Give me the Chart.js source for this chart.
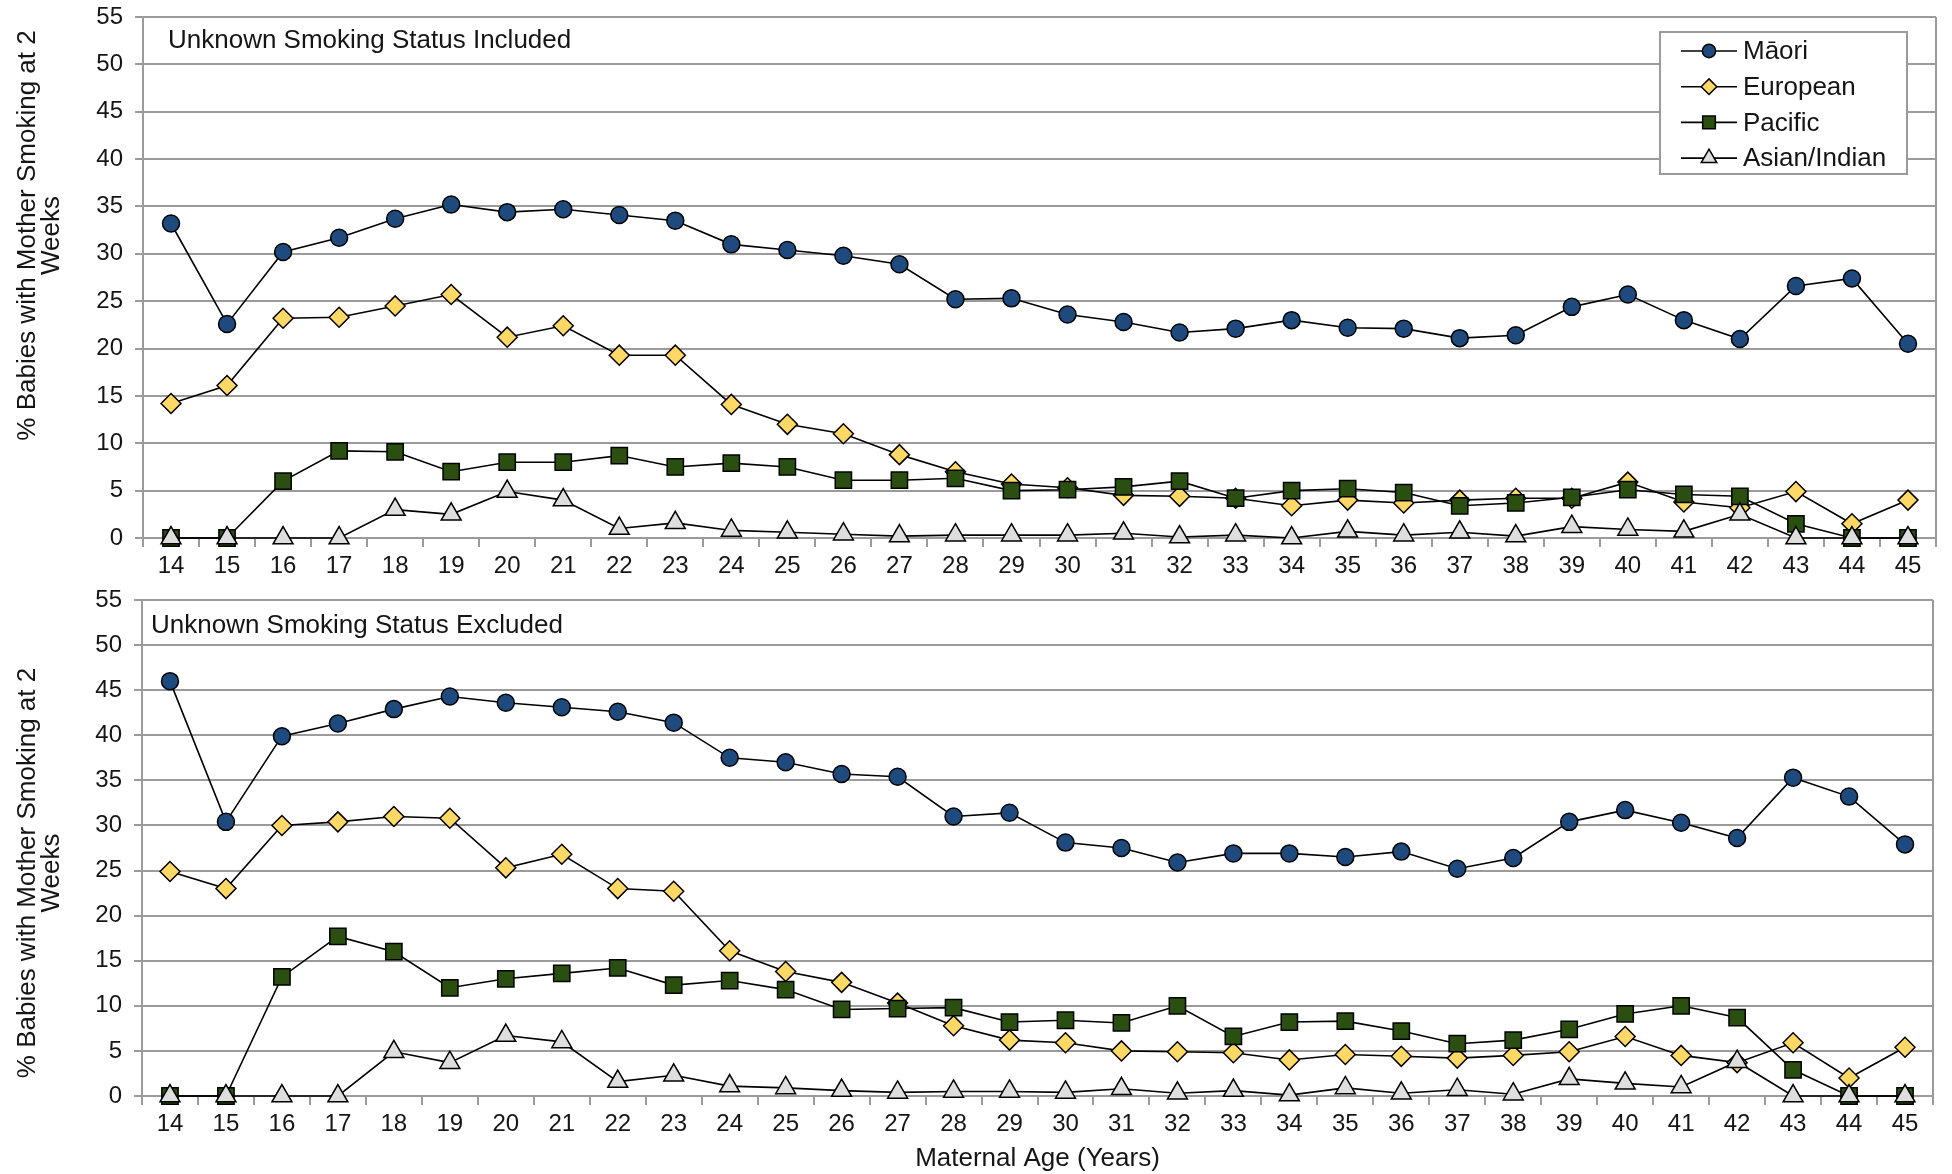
<!DOCTYPE html>
<html>
<head>
<meta charset="utf-8">
<script src="https://cdn.jsdelivr.net/npm/chart.js@4.4.1/dist/chart.umd.min.js"></script>
<style>
  html, body { margin: 0; padding: 0; background: #fff; overflow: hidden; }
  canvas { display: block; }
</style>
</head>
<body>
<canvas id="chart-included" width="1952" height="580"></canvas>
<canvas id="chart-excluded" width="1952" height="594"></canvas>
<script>
// maternal age categories
const ages = ['14','15','16','17','18','19','20','21','22','23','24','25','26','27','28','29',
              '30','31','32','33','34','35','36','37','38','39','40','41','42','43','44','45'];
const yTicks = [0, 5, 10, 15, 20, 25, 30, 35, 40, 45, 50, 55];

// unknown smoking status included
const maoriIncl    = [33.2,22.6,30.2,31.7,33.7,35.2,34.4,34.7,34.1,33.5,31.0,30.4,29.8,28.9,25.2,25.3,
                      23.6,22.8,21.7,22.1,23.0,22.2,22.1,21.1,21.4,24.4,25.7,23.0,21.0,26.6,27.4,20.5];
const europeanIncl = [14.2,16.1,23.2,23.3,24.5,25.7,21.2,22.4,19.3,19.3,14.1,12.0,11.0,8.8,7.0,5.7,
                      5.3,4.5,4.4,4.2,3.4,4.0,3.7,4.0,4.2,4.2,5.9,3.8,3.2,4.9,1.5,4.0];
const pacificIncl  = [0,0,6.0,9.2,9.1,7.0,8.0,8.0,8.7,7.5,7.9,7.5,6.1,6.1,6.3,5.0,
                      5.1,5.4,6.0,4.2,5.0,5.2,4.8,3.4,3.7,4.3,5.1,4.6,4.4,1.5,0,0];
const asianIncl    = [0,0,0,0,3.0,2.5,4.9,4.0,1.0,1.6,0.8,0.6,0.4,0.2,0.3,0.3,
                      0.3,0.5,0.1,0.3,0,0.7,0.3,0.6,0.2,1.2,0.9,0.7,2.5,0,0,0];

// unknown smoking status excluded
const maoriExcl    = [46.0,30.4,39.9,41.3,42.9,44.3,43.6,43.1,42.6,41.4,37.5,37.0,35.7,35.4,31.0,31.4,
                      28.1,27.5,25.9,26.9,26.9,26.5,27.1,25.2,26.4,30.4,31.7,30.3,28.6,35.3,33.2,27.9];
const europeanExcl = [24.9,23.0,30.0,30.4,31.0,30.8,25.3,26.8,23.0,22.7,16.1,13.8,12.6,10.3,7.8,6.2,
                      5.9,5.0,4.9,4.8,4.0,4.6,4.4,4.2,4.5,4.9,6.6,4.5,3.7,5.9,2.0,5.4];
const pacificExcl  = [0,0,13.2,17.7,16.0,12.0,13.0,13.6,14.2,12.3,12.8,11.8,9.6,9.7,9.8,8.2,
                      8.4,8.1,10.0,6.6,8.2,8.3,7.2,5.8,6.2,7.4,9.1,10.0,8.7,2.9,0,0];
const asianExcl    = [0,0,0,0,4.9,3.7,6.7,6.0,1.6,2.3,1.1,0.9,0.6,0.4,0.5,0.5,
                      0.4,0.8,0.3,0.6,0.1,0.9,0.3,0.7,0.2,1.9,1.4,1.0,3.8,0,0,0];

const seriesNames = ['Māori', 'European', 'Pacific', 'Asian/Indian'];
const yTitle = ['% Babies with Mother Smoking at 2', 'Weeks'];

const FONT = "'Liberation Sans', Arial, sans-serif";
const GRID = '#9b9b9b';
const INK = '#151515';

Chart.defaults.font.family = FONT;
Chart.defaults.color = INK;

const styles = [
  { fill: '#1f4a7e', shape: 'circle',   r: 8.5 },
  { fill: '#ffd866', shape: 'rectRot',  r: 10 },
  { fill: '#2a4f10', shape: 'rect',     r: 11.5 },
  { fill: '#dedede', shape: 'triangle', r: 11.5 }
];

const makeDatasets = cols => cols.map((data, i) => ({
  label: seriesNames[i],
  data: data,
  borderColor: '#000',
  borderWidth: 1.6,
  pointStyle: styles[i].shape,
  pointRadius: styles[i].r,
  pointBackgroundColor: styles[i].fill,
  pointBorderColor: '#000',
  pointBorderWidth: 1.5,
  tension: 0,
  clip: false,
  order: 4 - i   // later series sit on top
}));

// text, frame and legend drawn over the plot area
const overlay = {
  id: 'overlay',
  afterDraw(chart, args, o) {
    const ctx = chart.ctx, a = chart.chartArea;
    ctx.save();
    // right frame edge
    ctx.strokeStyle = GRID; ctx.lineWidth = 2;
    ctx.beginPath(); ctx.moveTo(a.right, a.top); ctx.lineTo(a.right, a.bottom); ctx.stroke();

    ctx.fillStyle = INK;
    ctx.font = '26px ' + FONT;
    ctx.textBaseline = 'middle';
    ctx.textAlign = 'left';
    ctx.fillText(o.caption, a.left + o.capX, a.top + o.capY);

    // rotated y title
    ctx.save();
    ctx.translate(0, (a.top + a.bottom) / 2 + o.titleShift);
    ctx.rotate(-Math.PI / 2);
    ctx.textAlign = 'center';
    ctx.fillText(yTitle[0], 0, 28);
    ctx.fillText(yTitle[1], 0, 52);
    ctx.restore();

    if (o.legend) {
      const bx = a.right - 276, by = a.top + 15, bw = 247, bh = 142;
      ctx.fillStyle = '#fff';
      ctx.fillRect(bx, by, bw, bh);
      ctx.strokeStyle = GRID; ctx.lineWidth = 2;
      ctx.strokeRect(bx, by, bw, bh);
      chart.data.datasets.forEach((ds, i) => {
        const y = by + 19 + i * 35.7;
        ctx.strokeStyle = '#000'; ctx.lineWidth = 1.6;
        ctx.beginPath(); ctx.moveTo(bx + 21, y); ctx.lineTo(bx + 77, y); ctx.stroke();
        ctx.fillStyle = ds.pointBackgroundColor;
        ctx.strokeStyle = '#000'; ctx.lineWidth = 1.5;
        Chart.helpers.drawPoint(ctx, {
          pointStyle: ds.pointStyle, radius: ds.pointRadius * 0.78, rotation: 0, borderWidth: 1.5
        }, bx + 49, y);
        ctx.fillStyle = INK;
        ctx.textAlign = 'left';
        ctx.fillText(ds.label, bx + 83, y + 1);
      });
    }
    ctx.restore();
  }
};

function build(id, cols, opt) {
  return new Chart(document.getElementById(id), {
    type: 'line',
    data: { labels: ages, datasets: makeDatasets(cols) },
    plugins: [overlay],
    options: {
      responsive: false,
      animation: false,
      events: [],
      layout: { padding: { top: opt.top, right: opt.right, left: 0, bottom: 0 } },
      plugins: {
        legend: { display: false },
        tooltip: { enabled: false },
        overlay: opt.overlay
      },
      scales: {
        x: {
          offset: true,
          grid: { offset: true, drawOnChartArea: false, color: GRID, lineWidth: 2, tickLength: 9 },
          border: { display: true, color: GRID, width: 2 },
          ticks: { font: { size: 24 }, color: INK, padding: 5, maxRotation: 0, autoSkip: false },
          title: {
            display: !!opt.xTitle, text: opt.xTitle || '',
            font: { size: 26 }, color: INK, padding: { top: 0, bottom: 0 }
          },
          afterFit: s => { s.height = opt.xHeight; }
        },
        y: {
          min: 0, max: 55,
          afterBuildTicks: s => { s.ticks = yTicks.map(v => ({ value: v })); },
          grid: { color: GRID, lineWidth: 2, tickLength: 8 },
          border: { display: true, color: GRID, width: 2 },
          ticks: { font: { size: 24, lineHeight: 0.4 }, color: INK, padding: 12 },
          afterFit: s => { s.width = opt.yWidth; }
        }
      }
    }
  });
}

build('chart-included', [maoriIncl, europeanIncl, pacificIncl, asianIncl], {
  top: 17, right: 16, yWidth: 143, xHeight: 42,
  overlay: { caption: 'Unknown Smoking Status Included', capX: 25, capY: 24, titleShift: -42, legend: true }
});

build('chart-excluded', [maoriExcl, europeanExcl, pacificExcl, asianExcl], {
  top: 20, right: 19, yWidth: 142, xHeight: 78, xTitle: 'Maternal Age (Years)',
  overlay: { caption: 'Unknown Smoking Status Excluded', capX: 9, capY: 26, titleShift: 25, legend: false }
});
</script>
</body>
</html>
